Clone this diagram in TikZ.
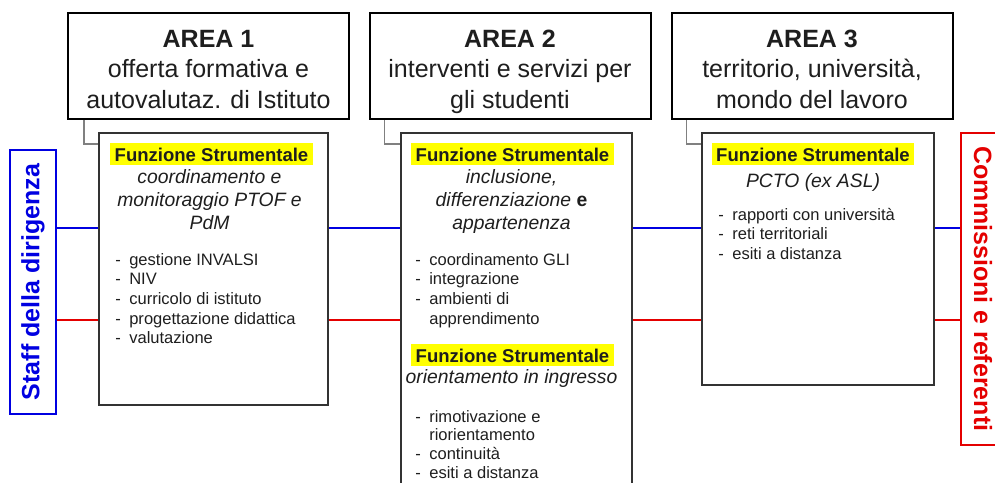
\documentclass[tikz,border=0pt]{standalone}
\usepackage{fontspec}
\setmainfont{Liberation Sans}
\definecolor{blu}{RGB}{0,0,225}
\definecolor{rosso}{RGB}{228,0,0}
\definecolor{giallo}{RGB}{255,255,0}
\definecolor{bordo}{RGB}{51,51,51}
\definecolor{testo}{RGB}{30,30,30}
\tikzset{
    org/.style={
        area/.append style={draw=black,line width=1.5pt,minimum width=210.75pt,minimum height=79.5pt},
        areatxt/.append style={anchor=base,inner sep=0pt,text=testo,font=\fontsize{18.75}{22.9}\selectfont},
        funz/.append style={draw=bordo,line width=1.5pt},
        tit/.append style={anchor=base,fill=giallo,inner xsep=3.5pt,inner ysep=0pt,text height=13.5pt,text depth=3pt,text=testo,font=\fontsize{13.9}{16}\selectfont\bfseries},
        desc/.append style={anchor=base,inner sep=0pt,text=testo,font=\fontsize{14.5}{17.25}\selectfont\itshape},
        voci/.append style={anchor=base west,inner sep=0pt,text=testo,font=\fontsize{12.4}{14.8}\selectfont},
        lato/.append style={line width=1.8pt,inner sep=0pt,font=\fontsize{18.75}{22}\selectfont\bfseries},
        gancio/.append style={draw=gray,line width=1.3pt},
        linea/.append style={line width=2.2pt}
    }
}
\newcommand{\righe}[1]{\begin{tabular}[t]{@{}c@{}}#1\end{tabular}}
\newcommand{\elenco}[1]{\begin{tabular}[t]{@{}l@{\hspace{6.4pt}}l@{}}#1\end{tabular}}

\begin{document}
\begin{tikzpicture}[org,x=0.75pt,y=-0.75pt]
    \useasboundingbox (0,0) rectangle (995,482);
    \clip (0,0) rectangle (995,482);

    \node[area] (a1) at (208.5,66) {};
    \node[areatxt] (a1t) at (208.5,47) {\righe{\textbf{AREA 1}\\offerta formativa e\\autovalutaz. di Istituto}};
    \node[area] (a2) at (510,66) {};
    \node[areatxt] (a2t) at (510,47) {\righe{\textbf{AREA 2}\\interventi e servizi per\\gli studenti}};
    \node[area] (a3) at (812,66) {};
    \node[areatxt] (a3t) at (812,47) {\righe{\textbf{AREA 3}\\territorio, università,\\mondo del lavoro}};

    \node[funz,minimum width=171.75pt,minimum height=204pt] (f1) at (213.5,269) {};
    \node[tit] (f1t) at (211.5,161) {Funzione Strumentale};
    \node[desc] (f1d) at (209.5,183) {\righe{coordinamento e\\monitoraggio PTOF e\\PdM}};
    \node[voci] (f1v) at (115,265) {\elenco{- & gestione INVALSI\\- & NIV\\- & curricolo di istituto\\- & progettazione didattica\\- & valutazione}};

    \node[funz,minimum width=173.25pt,minimum height=275.25pt] (f2) at (516.5,316.5) {};
    \node[tit] (f2t) at (512.5,161) {Funzione Strumentale};
    \node[desc] (f2d) at (511.5,183) {\righe{inclusione,\\differenziazione {\upshape\bfseries e}\\appartenenza}};
    \node[voci] (f2v) at (415,265) {\elenco{- & coordinamento GLI\\- & integrazione\\- & ambienti di\\ & apprendimento}};
    \node[tit] (f2u) at (512.5,362) {Funzione Strumentale};
    \node[desc] (f2e) at (511.5,383) {orientamento in ingresso};
    \node[voci,font=\fontsize{12.4}{14}\selectfont] (f2w) at (415,422) {\elenco{- & rimotivazione e\\ & riorientamento\\- & continuità\\- & esiti a distanza}};

    \node[funz,minimum width=174pt,minimum height=189pt] (f3) at (818,259) {};
    \node[tit] (f3t) at (813,161) {Funzione Strumentale};
    \node[desc] (f3d) at (813,187) {PCTO (ex ASL)};
    \node[voci] (f3v) at (718,220) {\elenco{- & rapporti con università\\- & reti territoriali\\- & esiti a distanza}};

    \node[lato,draw=blu,text=blu,rotate=90,minimum width=198pt,minimum height=34.5pt] (staff) at (33,282) {Staff della dirigenza};
    \node[lato,draw=rosso,text=rosso,rotate=-90,minimum width=234pt,minimum height=33pt] (comm) at (983,289) {Commissioni e referenti};

    \draw[gancio] ([xshift=12.75pt]a1.south west) |- ([yshift=-9pt]f1.north west);
    \draw[gancio] ([xshift=12pt]a2.south west) |- ([yshift=-9pt]f2.north west);
    \draw[gancio] ([xshift=12pt]a3.south west) |- ([yshift=-9pt]f3.north west);

    \coordinate (bl) at (0,228);
    \coordinate (rl) at (0,320);
    \foreach \a/\b in {staff.south/f1.west,f1.east/f2.west,f2.east/f3.west,f3.east/comm.south}{
        \draw[linea,blu] (\a |- bl) -- (\b |- bl);
        \draw[linea,rosso] (\a |- rl) -- (\b |- rl);
    }
\end{tikzpicture}
\end{document}
